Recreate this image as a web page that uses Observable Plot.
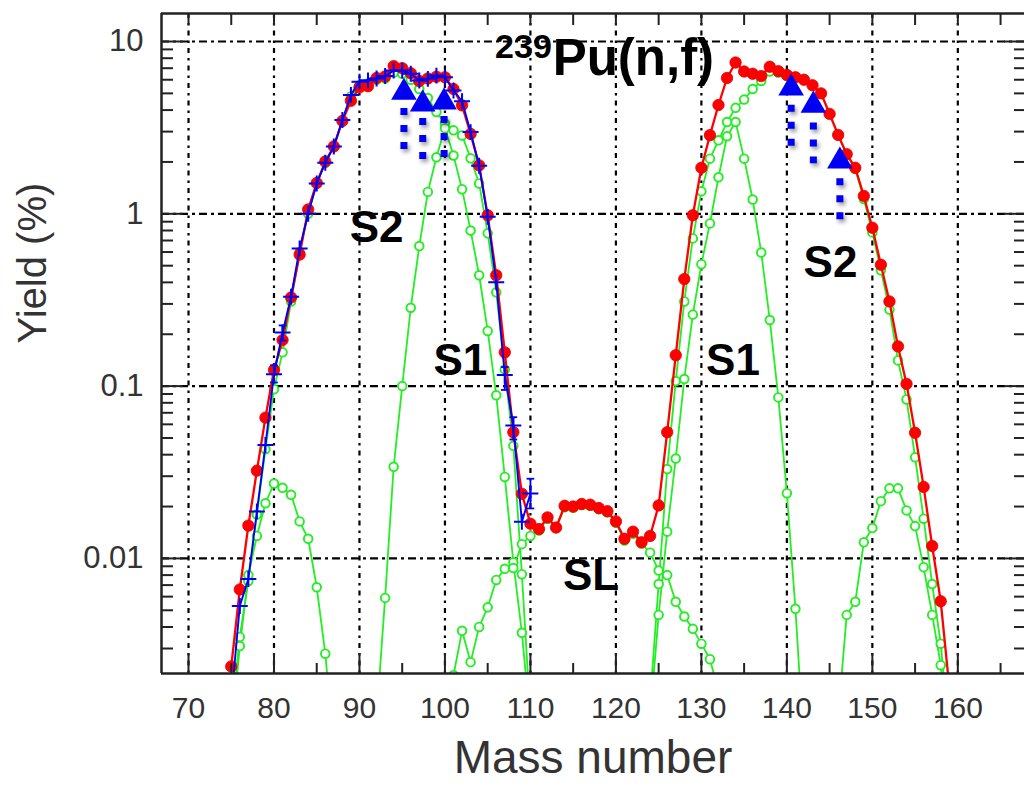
<!DOCTYPE html>
<html>
<head>
<meta charset="utf-8">
<script src="https://cdn.jsdelivr.net/npm/d3@7"></script>
<script src="https://cdn.jsdelivr.net/npm/@observablehq/plot@0.6"></script>
<style>
  html, body { margin: 0; padding: 0; background: #fff; }
  svg { display: block; }
</style>
</head>
<body>
<div id="chart"></div>
<script>
// ---------------- data (yield in %, by mass number) ----------------
const redStart = 75; // measured total yield (red filled circles)
const redYield = [
  0.00236, 0.0066, 0.0155, 0.0323, 0.0656, 0.124, 0.185, 0.327, 0.58, 1.06,
  1.51, 2.01, 2.46, 3.46, 4.53, 5.42, 5.5, 6.14, 6.27, 7.2,
  7.0, 6.55, 5.9, 6.1, 6.25, 6.2, 5.3, 4.26, 2.91, 1.91,
  0.98, 0.44, 0.157, 0.054, 0.0237, 0.0159, 0.0148, 0.0173, 0.0151, 0.0202,
  0.020, 0.0207, 0.0205, 0.0196, 0.0188, 0.0164, 0.0130, 0.0143, 0.0124, 0.0135,
  0.0203, 0.054, 0.151, 0.418, 0.98, 1.85, 2.86, 4.28, 6.14, 7.55,
  6.7, 6.5, 6.3, 7.14, 6.73, 6.4, 6.2, 6.0, 5.57, 5.0,
  3.8, 2.87, 2.22, 1.85, 1.27, 0.83, 0.506, 0.31, 0.17, 0.103,
  0.0536, 0.026, 0.0118, 0.00564, 0.0018
];

const blueStart = 75; // light-fragment data (blue plus)
const blueYield = [
  0.0015, 0.0053, 0.0076, 0.0187, 0.0455, 0.117, 0.205, 0.33, 0.63, 1.0,
  1.5, 1.98, 2.46, 3.5, 4.9, 5.85, 5.95, 6.1, 6.3, 6.78,
  6.78, 6.5, 5.94, 6.07, 6.34, 6.2, 5.2, 4.5, 2.98, 1.9,
  0.96, 0.4, 0.116, 0.059, 0.0163, 0.0238
];
const blueErrMass = [80, 81, 107, 108, 110];
const blueErrLow  = [0.105, 0.184, 0.095, 0.049, 0.0195];
const blueErrHigh = [0.132, 0.225, 0.129, 0.066, 0.029];

// fission-mode components (green open circles)
const s2LightStart = 75;
const s2Light = [
  0.0012, 0.0035, 0.0074, 0.018, 0.043, 0.096, 0.157, 0.31, 0.6, 1.0,
  1.5, 1.98, 2.45, 3.45, 4.8, 5.6, 5.7, 6.0, 6.1, 6.6,
  6.5, 6.0, 5.3, 4.7, 3.9, 3.35, 3.05, 2.85, 2.1, 1.5,
  0.77, 0.35, 0.125, 0.045, 0.0081, 0.0012
];
const s1LightStart = 92;
const s1Light = [
  0.0012, 0.0059, 0.034, 0.1, 0.285, 0.65, 1.34, 2.13, 3.14, 2.18,
  1.39, 0.80, 0.44, 0.209, 0.0885, 0.0297, 0.0095, 0.0037, 0.0011
];
const s3LightStart = 75;
const s3Light = [
  0.0009, 0.0031, 0.008, 0.0135, 0.0209, 0.0272, 0.0257, 0.0234, 0.0164, 0.013,
  0.0068, 0.0028, 0.0008
];
const slStart = 100;
const slYield = [
  0.0008, 0.0021, 0.0038, 0.0025, 0.004, 0.0052, 0.0075, 0.0087, 0.0088, 0.0121,
  0.0135, 0.0145, 0.017, 0.015, 0.0198, 0.0197, 0.0204, 0.0202, 0.0193, 0.0185,
  0.0161, 0.0127, 0.0139, 0.0122, 0.0108, 0.0085, 0.008, 0.0056, 0.0046, 0.0039,
  0.0032, 0.0026, 0.0017
];
const s1HeavyStart = 124;
const s1Heavy = [
  0.0012, 0.0047, 0.0143, 0.038, 0.11, 0.26, 0.51, 0.88, 1.63, 2.82,
  3.41, 2.09, 1.21, 0.596, 0.242, 0.086, 0.0239, 0.0051, 0.0008
];
const s2HeavyStart = 124;
const s2Heavy = [
  0.0015, 0.0071, 0.033, 0.107, 0.31, 0.72, 1.35, 2.09, 2.67, 3.41,
  4.12, 4.6, 5.3, 5.9, 6.7, 6.6, 6.3, 6.2, 6.0, 5.55,
  5.0, 3.8, 2.85, 2.2, 1.82, 1.22, 0.78, 0.47, 0.278, 0.141,
  0.0837, 0.0386, 0.017, 0.0071, 0.0032, 0.0009
];
const s3HeavyStart = 146;
const s3Heavy = [
  0.0012, 0.0047, 0.0056, 0.0124, 0.015, 0.0215, 0.0255, 0.0255, 0.019, 0.0154,
  0.0089, 0.0047, 0.0024, 0.0007
];

// upward arrows (triangle + dotted stem)
const arrowMass   = [95.2, 97.4, 99.9, 140.5, 143.1, 146.2];
const arrowTip    = [5.06, 4.33, 4.45, 5.36, 4.26, 2.02];
const arrowStemHi = [4.08, 3.57, 3.67, 4.26, 3.36, 1.6];
const arrowStemLo = [2.18, 1.9, 1.96, 2.44, 1.95, 0.914];

// axes
const xMajorTicks = [70, 80, 90, 100, 110, 120, 130, 140, 150, 160];
const xMinorTicks = [75, 85, 95, 105, 115, 125, 135, 145, 155, 165];
const yMajorTicks = [0.01, 0.1, 1, 10];
const yTickLabels = ["0.01", "0.1", "1", "10"];
const yMinorTicks = [0.003, 0.004, 0.005, 0.006, 0.007, 0.008, 0.009,
  0.02, 0.03, 0.04, 0.05, 0.06, 0.07, 0.08, 0.09,
  0.2, 0.3, 0.4, 0.5, 0.6, 0.7, 0.8, 0.9,
  2, 3, 4, 5, 6, 7, 8, 9];
const xDomain = [66.84, 167.8];
const yDomain = [0.002148, 14.54];

// ---------------- build tables ----------------
const toRows = (start, vals, series) => vals.map((v, i) => ({mass: start + i, value: v, series}));
const red = toRows(redStart, redYield, "total");
const blue = toRows(blueStart, blueYield, "light");
const green = [
  ...toRows(s2LightStart, s2Light, "S2L"),
  ...toRows(s1LightStart, s1Light, "S1L"),
  ...toRows(s3LightStart, s3Light, "S3L"),
  ...toRows(slStart, slYield, "SL"),
  ...toRows(s1HeavyStart, s1Heavy, "S1H"),
  ...toRows(s2HeavyStart, s2Heavy, "S2H"),
  ...toRows(s3HeavyStart, s3Heavy, "S3H")
];
const errs = blueErrMass.map((m, i) => ({mass: m, lo: blueErrLow[i], hi: blueErrHigh[i]}));
const arrows = arrowMass.map((m, i) => ({mass: m, tip: arrowTip[i], hi: arrowStemHi[i], lo: arrowStemLo[i]}));

const W = 1024, H = 796, mL = 161, mR = 0, mT = 13, mB = 123;
const frameW = W - mL - mR, frameH = H - mT - mB;

const RED = "#ff0000", BLUE = "#0000f5", GREEN = "#22ee22";
const FONT = "'Liberation Sans', Arial, Helvetica, sans-serif";

const plot = Plot.plot({
  width: W, height: H,
  marginLeft: mL, marginRight: mR, marginTop: mT, marginBottom: mB,
  x: {domain: xDomain, axis: null},
  y: {type: "log", domain: yDomain, axis: null},
  style: {fontFamily: FONT, background: "#fff", overflow: "visible"},
  marks: [
    // grid
    Plot.ruleX(xMajorTicks, {x: d => d, stroke: "#000", strokeWidth: 2.2, strokeDasharray: "5,5,2.5,5"}),
    Plot.ruleY(yMajorTicks, {y: d => d, stroke: "#000", strokeWidth: 2.2, strokeDasharray: "8,4,3,4"}),

    // green components
    Plot.line(green, {x: "mass", y: "value", z: "series", stroke: GREEN, strokeWidth: 1.8, clip: true}),
    Plot.dot(green, {x: "mass", y: "value", r: 4.3, stroke: GREEN, strokeWidth: 1.9, fill: "#fff", clip: true}),

    // red total
    Plot.line(red, {x: "mass", y: "value", stroke: RED, strokeWidth: 2.3, clip: true}),
    Plot.dot(red, {x: "mass", y: "value", r: 5.7, fill: RED, stroke: "#e80000", strokeWidth: 0.8, clip: true}),

    // blue light-fragment data
    Plot.line(blue, {x: "mass", y: "value", stroke: BLUE, strokeWidth: 1.9, clip: true}),
    Plot.ruleX(errs, {x: "mass", y1: "lo", y2: "hi", stroke: BLUE, strokeWidth: 1.8, clip: true}),
    Plot.link(errs, {x1: d => d.mass - 0.45, x2: d => d.mass + 0.45, y1: "lo", y2: "lo", stroke: BLUE, strokeWidth: 1.8, clip: true}),
    Plot.link(errs, {x1: d => d.mass - 0.45, x2: d => d.mass + 0.45, y1: "hi", y2: "hi", stroke: BLUE, strokeWidth: 1.8, clip: true}),
    Plot.dot(blue, {x: "mass", y: "value", symbol: "plus", r: 5.2, stroke: BLUE, fill: "none", strokeWidth: 2, clip: true}),

    // arrows
    Plot.ruleX(arrows, {x: "mass", y1: "hi", y2: "lo", stroke: BLUE, strokeWidth: 7, strokeDasharray: "7,10"}),
    Plot.dot(arrows, {x: "mass", y: "tip", symbol: "triangle", r: 9.5, fill: BLUE, stroke: "none"}),

    // annotations
    Plot.text(["S2"], {x: 92.0, y: 0.833, fontSize: 44, fontWeight: "bold", fill: "#000"}),
    Plot.text(["S1"], {x: 101.8, y: 0.14, fontSize: 44, fontWeight: "bold", fill: "#000"}),
    Plot.text(["S1"], {x: 133.7, y: 0.14, fontSize: 44, fontWeight: "bold", fill: "#000"}),
    Plot.text(["S2"], {x: 145.1, y: 0.521, fontSize: 44, fontWeight: "bold", fill: "#000"}),
    Plot.text(["SL"], {x: 117.1, y: 0.0079, fontSize: 44, fontWeight: "bold", fill: "#000"}),
    Plot.text(["239"], {x: 112.5, y: 9.3, textAnchor: "end", fontSize: 34, fontWeight: "bold", fill: "#000"}),
    Plot.text(["Pu(n,f)"], {x: 112.6, y: 7.95, textAnchor: "start", fontSize: 51, fontWeight: "bold", fill: "#000"}),

    // ticks (inward)
    Plot.ruleX(xMajorTicks, {x: d => d, insetTop: frameH - 20, stroke: "#222", strokeWidth: 2}),
    Plot.ruleX(xMinorTicks, {x: d => d, insetTop: frameH - 10, stroke: "#222", strokeWidth: 2}),
    Plot.ruleX([...xMajorTicks, ...xMinorTicks], {x: d => d, insetBottom: frameH - 12, stroke: "#222", strokeWidth: 2}),
    Plot.ruleY(yMajorTicks, {y: d => d, insetRight: frameW - 22, stroke: "#222", strokeWidth: 2}),
    Plot.ruleY(yMinorTicks, {y: d => d, insetRight: frameW - 12, stroke: "#222", strokeWidth: 2}),
    Plot.ruleY(yMajorTicks, {y: d => d, insetLeft: frameW - 20, stroke: "#222", strokeWidth: 2}),
    Plot.ruleY(yMinorTicks, {y: d => d, insetLeft: frameW - 10, stroke: "#222", strokeWidth: 2}),

    // frame (left, top, bottom)
    Plot.ruleX([xDomain[0]], {stroke: "#222", strokeWidth: 2.5}),
    Plot.ruleY([yDomain[0], yDomain[1]], {stroke: "#222", strokeWidth: 2.5}),

    // tick labels
    Plot.text(xMajorTicks, {x: d => d, text: d => String(d), frameAnchor: "bottom", dy: 44, fontSize: 30, fill: "#333"}),
    Plot.text(yMajorTicks, {y: d => d, text: (d, i) => yTickLabels[i], frameAnchor: "left", dx: -18, textAnchor: "end", fontSize: 31, fill: "#333"}),

    // axis titles
    Plot.text(["Mass number"], {frameAnchor: "bottom", dy: 99, fontSize: 46, fill: "#333"}),
    Plot.text(["Yield (%)"], {frameAnchor: "left", dx: -128, rotate: -90, fontSize: 40, fill: "#333"})
  ]
});

// soft shadow on the arrow stems
d3.select(plot).selectAll("g").filter(function () {
  return this.getAttribute("stroke-dasharray") === "7,10";
}).style("filter", "drop-shadow(2px 3px 2px rgba(0,0,0,0.4))");

document.getElementById("chart").appendChild(plot);
</script>
</body>
</html>
